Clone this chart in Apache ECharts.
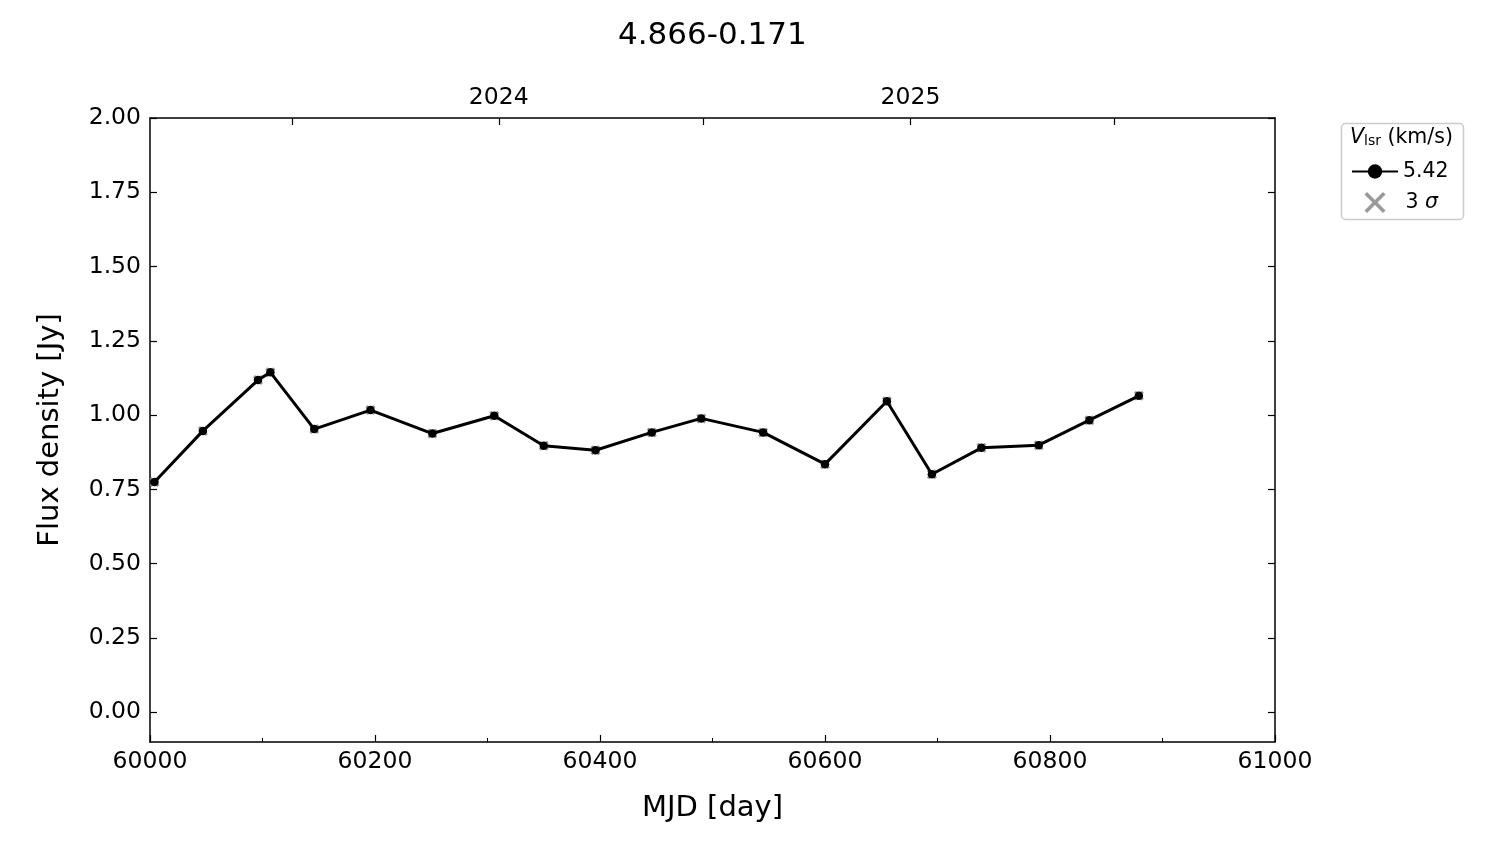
<!DOCTYPE html>
<html>
<head>
<meta charset="utf-8">
<script src="https://cdn.jsdelivr.net/npm/echarts@6/dist/echarts.min.js"></script>
<style>html,body{margin:0;padding:0;background:#fff}#c{width:1500px;height:844px}</style>
</head>
<body>
<div id="c"></div>
<script>
const titleText = '4.866-0.171';
const seriesName = '5.42';
const sigmaName = '3 σ';
const mjd = [60004, 60047, 60096, 60107, 60146, 60196, 60251, 60306, 60350, 60396, 60446, 60490, 60545, 60600, 60655, 60695, 60739, 60790, 60835, 60879];
const flux = [0.775, 0.947, 1.118, 1.144, 0.953, 1.017, 0.938, 0.998, 0.897, 0.882, 0.942, 0.989, 0.942, 0.835, 1.047, 0.801, 0.890, 0.899, 0.983, 1.065];
const yTicks = [0, 0.25, 0.5, 0.75, 1.0, 1.25, 1.5, 1.75, 2.0];
const yearTicks = [60310, 60676];
const yearLabels = ['2024', '2025'];
const halfYearTicks = [60126, 60310, 60492, 60676, 60857];

const FONT = 'DejaVu Sans';
const xPath = 'path://M2,0L5,3L8,0L10,2L7,5L10,8L8,10L5,7L2,10L0,8L3,5L0,2Z';
const xPathThin = 'path://M1.2,0L5,3.8L8.8,0L10,1.2L6.2,5L10,8.8L8.8,10L5,6.2L1.2,10L0,8.8L3.8,5L0,1.2Z';
const pts = mjd.map((x, i) => [x, flux[i]]);

const chart = echarts.init(document.getElementById('c'));
const axisLine = {show: true, onZero: false, lineStyle: {color: '#000', width: 1.5}};
const tickStyle = {color: '#000', width: 1.2};
chart.setOption({
  animation: false,
  backgroundColor: '#fff',
  textStyle: {fontFamily: FONT},
  title: {text: titleText, left: 613, top: 15,
    textStyle: {fontFamily: FONT, fontSize: 31, fontWeight: 'normal', color: '#000'}},
  grid: {left: 150, right: 225, top: 118, bottom: 102},
  xAxis: [{
    type: 'value', min: 60000, max: 61000, interval: 200, position: 'bottom',
    name: 'MJD [day]', nameLocation: 'middle', nameGap: 52,
    nameTextStyle: {fontFamily: FONT, fontSize: 29, color: '#000'},
    axisLine: axisLine,
    axisTick: {show: true, inside: true, length: 7, lineStyle: tickStyle},
    minorTick: {show: true, splitNumber: 2, length: 4, lineStyle: {color: '#000', width: 1}},
    axisLabel: {fontFamily: FONT, fontSize: 23.5, color: '#000', margin: 8, formatter: v => String(v)},
    splitLine: {show: false}
  }, {
    type: 'value', min: 60000, max: 61000, position: 'top',
    axisLine: axisLine,
    axisTick: {show: true, inside: true, length: 7, customValues: halfYearTicks, lineStyle: tickStyle},
    axisLabel: {show: true, fontFamily: FONT, fontSize: 23.5, color: '#000', margin: 8, customValues: yearTicks,
      formatter: v => { const k = yearTicks.indexOf(v); return k >= 0 ? yearLabels[k] : ''; }},
    splitLine: {show: false}
  }],
  yAxis: [{
    type: 'value', min: -0.1, max: 2.0, position: 'left',
    name: 'Flux density [Jy]', nameLocation: 'middle', nameGap: 85,
    nameTextStyle: {fontFamily: FONT, fontSize: 29, color: '#000'},
    axisLine: axisLine,
    axisTick: {show: true, inside: true, length: 7, customValues: yTicks, lineStyle: tickStyle},
    axisLabel: {fontFamily: FONT, fontSize: 23.5, color: '#000', margin: 9, customValues: yTicks,
      formatter: v => v.toFixed(2)},
    splitLine: {show: false}
  }, {
    type: 'value', min: -0.1, max: 2.0, position: 'right',
    axisLine: axisLine,
    axisTick: {show: true, inside: true, length: 7, customValues: yTicks, lineStyle: tickStyle},
    axisLabel: {show: false},
    splitLine: {show: false}
  }],
  legend: [{
    left: 1346, top: 156, orient: 'vertical', itemGap: 0, itemWidth: 46, itemHeight: 18,
    textStyle: {fontFamily: FONT, fontSize: 20.5, color: '#000'},
    data: [{name: seriesName}]
  }, {
    left: 1359.5, top: 187, orient: 'vertical', itemGap: 0, itemWidth: 21, itemHeight: 21,
    textStyle: {fontFamily: FONT, fontSize: 20.5, color: '#000', padding: [0, 0, 0, 15],
      rich: {i: {fontFamily: FONT, fontSize: 20.5, fontStyle: 'italic', color: '#000'}}},
    formatter: n => n === sigmaName ? '3 {i|σ}' : n,
    data: [{name: sigmaName, icon: xPathThin, itemStyle: {color: '#808080'}}]
  }],
  graphic: [
    {type: 'rect', shape: {x: 1341.5, y: 123.5, width: 122, height: 96, r: 4},
      style: {fill: '#fff', stroke: '#cccccc', lineWidth: 1.5}, z: 0},
    {type: 'text', left: 1350, top: 127, z: 10,
      style: {text: '{v|V}{s|lsr}{n| (km/s)}', rich: {
        v: {fontFamily: FONT, fontSize: 20.5, fontStyle: 'italic', fill: '#000'},
        s: {fontFamily: FONT, fontSize: 14, fill: '#000', padding: [8, 0, 0, 0]},
        n: {fontFamily: FONT, fontSize: 20.5, fill: '#000'}
      }}}
  ],
  series: [{
    name: sigmaName, type: 'scatter', xAxisIndex: 0, yAxisIndex: 0,
    data: pts, symbol: xPath, symbolSize: 10, z: 2,
    itemStyle: {color: '#808080'}
  }, {
    name: seriesName, type: 'line', xAxisIndex: 0, yAxisIndex: 0,
    data: pts, symbol: 'circle', symbolSize: 8.5, showSymbol: true, z: 3,
    lineStyle: {color: '#000', width: 3},
    itemStyle: {color: '#000'}
  }]
});
</script>
</body>
</html>
